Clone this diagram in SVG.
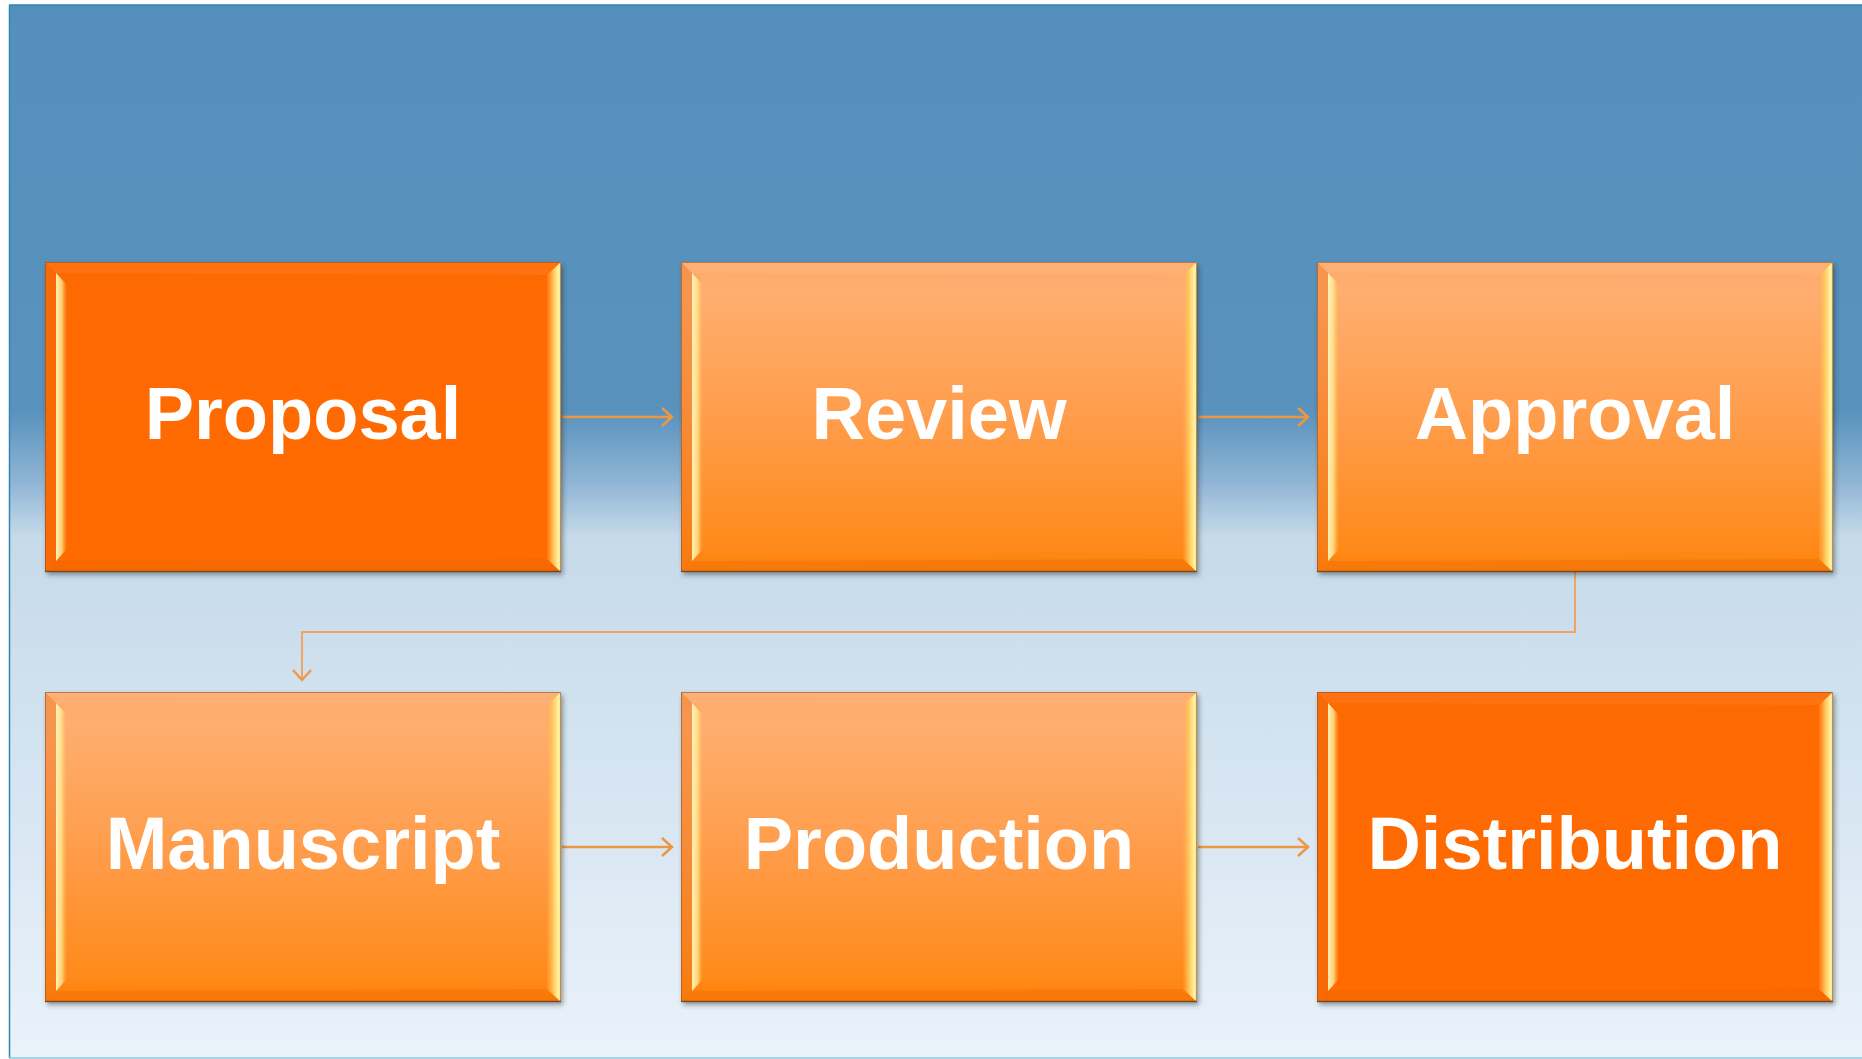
<svg xmlns="http://www.w3.org/2000/svg" xmlns:xlink="http://www.w3.org/1999/xlink" width="1862" height="1059" viewBox="0 0 1862 1059">
<style>
.lbl{font-family:"Liberation Sans",Arial,sans-serif;font-weight:bold;font-size:74px;fill:#FFFFFF;text-anchor:middle}
.con{fill:none;stroke:#EC9743;stroke-width:2.5}
.con2{fill:none;stroke:#F2A55E;stroke-width:2}
</style>
<defs>
<linearGradient id="bg" x1="0" y1="0" x2="0" y2="1">
<stop offset="0" stop-color="#5590BC"/>
<stop offset="0.385" stop-color="#5892BD"/>
<stop offset="0.45" stop-color="#8DB3D3"/>
<stop offset="0.505" stop-color="#C6DAEA"/>
<stop offset="0.7" stop-color="#D3E3F0"/>
<stop offset="1" stop-color="#EAF2FA"/>
</linearGradient>
<linearGradient id="light" x1="0" y1="0" x2="0" y2="1">
<stop offset="0" stop-color="#FDAA6C"/>
<stop offset="0.1" stop-color="#FEAE6F"/>
<stop offset="0.5" stop-color="#FF9D4C"/>
<stop offset="0.92" stop-color="#FF8A1A"/>
<stop offset="1" stop-color="#FF8006"/>
</linearGradient>
<linearGradient id="dark" x1="0" y1="0" x2="0" y2="1">
<stop offset="0" stop-color="#FE6A02"/>
<stop offset="1" stop-color="#FF6B00"/>
</linearGradient>
<linearGradient id="hlL" x1="0" y1="0" x2="1" y2="0">
<stop offset="0" stop-color="#FFF6C0" stop-opacity="0.95"/>
<stop offset="0.5" stop-color="#FFE48A" stop-opacity="0.85"/>
<stop offset="1" stop-color="#FFC060" stop-opacity="0"/>
</linearGradient>
<linearGradient id="hlR" x1="0" y1="0" x2="1" y2="0">
<stop offset="0" stop-color="#FFB050" stop-opacity="0.2"/>
<stop offset="0.45" stop-color="#FFD060" stop-opacity="0.9"/>
<stop offset="0.8" stop-color="#FFF2A8" stop-opacity="1"/>
<stop offset="1" stop-color="#FFE070" stop-opacity="1"/>
</linearGradient>
<filter id="sh" x="-5%" y="-5%" width="110%" height="115%">
<feGaussianBlur stdDeviation="2.5"/>
</filter>
<marker id="ah" viewBox="-13 -12 16 24" refX="0" refY="0" markerWidth="16" markerHeight="24" markerUnits="userSpaceOnUse" orient="auto">
<path d="M-10,-9 L0,0 L-10,9" fill="none" stroke="#EC9743" stroke-width="2.5"/>
</marker>
<marker id="ah2" viewBox="-13 -12 16 24" refX="0" refY="0" markerWidth="16" markerHeight="24" markerUnits="userSpaceOnUse" orient="auto">
<path d="M-10,-9 L0,0 L-10,9" fill="none" stroke="#F09A48" stroke-width="2.5"/>
</marker>
<g id="bevel">
<polygon points="0,0 516,0 502,13 11,11" fill="#FFFFFF" opacity="0.06"/>
<polygon points="0,310 11,299 502,297 516,310" fill="#E06000" opacity="0.25"/>
<polygon points="0,0 11,11 11,299 0,310" fill="#E86A10" opacity="0.35"/>
<polygon points="11,11 22,23 22,287 11,299" fill="url(#hlL)"/>
<polygon points="516,0 502,13 502,297 516,310" fill="url(#hlR)"/>
<rect x="0.5" y="0.5" width="515" height="309" fill="none" stroke="#8A4A20" stroke-opacity="0.55" stroke-width="1"/>
<line x1="0" y1="309.5" x2="516" y2="309.5" stroke="#5A4030" stroke-opacity="0.7" stroke-width="1.5"/>
</g>
<rect id="shadow" x="2" y="3" width="516" height="310" fill="#2A2A2A" opacity="0.45" filter="url(#sh)"/>
</defs>

<rect x="0" y="0" width="1862" height="1059" fill="#FFFFFF"/>
<rect x="9" y="5" width="1853" height="1053" fill="url(#bg)"/>
<line x1="9" y1="5" x2="1862" y2="5" stroke="#2C86AE" stroke-width="1.5"/>
<line x1="9.5" y1="5" x2="9.5" y2="1058" stroke="#2C86AE" stroke-width="1.5"/>
<line x1="9" y1="1058" x2="1862" y2="1058" stroke="#8CC6D8" stroke-width="1.5"/>

<g id="connectors">
<line class="con" x1="562" y1="417" x2="672" y2="417" marker-end="url(#ah)"/>
<line class="con" x1="1198" y1="417" x2="1308" y2="417" marker-end="url(#ah)"/>
<polyline class="con2" points="1575,572 1575,632 302,632 302,680" marker-end="url(#ah2)"/>
<line class="con" x1="562" y1="847" x2="672" y2="847" marker-end="url(#ah)"/>
<line class="con" x1="1198" y1="847" x2="1308" y2="847" marker-end="url(#ah)"/>
</g>

<g id="n-proposal" transform="translate(45,262)">
<use href="#shadow"/>
<rect width="516" height="310" fill="url(#dark)"/>
<use href="#bevel"/>
<text class="lbl" x="258" y="177">Proposal</text>
</g>
<g id="n-review" transform="translate(681,262)">
<use href="#shadow"/>
<rect width="516" height="310" fill="url(#light)"/>
<use href="#bevel"/>
<text class="lbl" x="258" y="177">Review</text>
</g>
<g id="n-approval" transform="translate(1317,262)">
<use href="#shadow"/>
<rect width="516" height="310" fill="url(#light)"/>
<use href="#bevel"/>
<text class="lbl" x="258" y="177">Approval</text>
</g>
<g id="n-manuscript" transform="translate(45,692)">
<use href="#shadow"/>
<rect width="516" height="310" fill="url(#light)"/>
<use href="#bevel"/>
<text class="lbl" x="258" y="177">Manuscript</text>
</g>
<g id="n-production" transform="translate(681,692)">
<use href="#shadow"/>
<rect width="516" height="310" fill="url(#light)"/>
<use href="#bevel"/>
<text class="lbl" x="258" y="177">Production</text>
</g>
<g id="n-distribution" transform="translate(1317,692)">
<use href="#shadow"/>
<rect width="516" height="310" fill="url(#dark)"/>
<use href="#bevel"/>
<text class="lbl" x="258" y="177">Distribution</text>
</g>
</svg>
